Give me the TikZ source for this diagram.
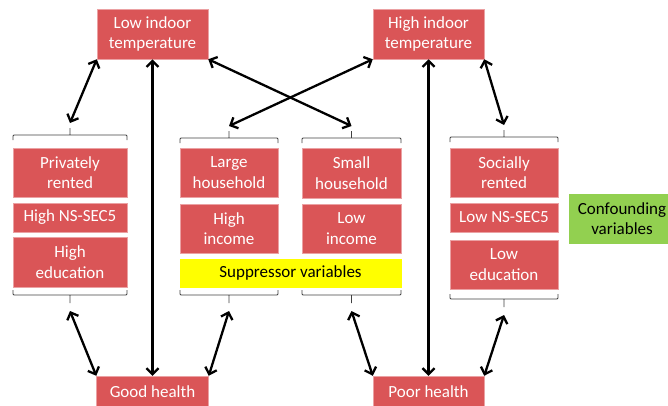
\documentclass[tikz,border=0pt]{standalone}
\usepackage{fontspec}
\setmainfont{Carlito}
\usetikzlibrary{arrows.meta}
\definecolor{boxred}{RGB}{218,85,87}
\definecolor{suppyellow}{RGB}{255,255,0}
\definecolor{confgreen}{RGB}{146,208,80}

\begin{document}
\begin{tikzpicture}[x=1pt,y=-1pt,
  var/.style={fill=boxred,draw=boxred!55!white,line width=0.5pt,text=white,
    align=center,inner sep=0pt,font=\fontsize{17}{20.5}\selectfont},
  brace/.style={draw=black!75,line width=0.9pt,rounded corners=1pt},
  link/.style={line width=2.3pt,
    {Straight Barb[length=6pt,width=12pt]}-{Straight Barb[length=6pt,width=12pt]}}]
\useasboundingbox (0,0) rectangle (668,405);
% temperature
\node[var,minimum width=111pt,minimum height=50pt] (ltemp) at (152.5,34) {Low indoor\\temperature};
\node[var,minimum width=111pt,minimum height=50pt] (htemp) at (428.5,34) {High indoor\\temperature};
% confounding, left
\node[var,minimum width=114pt,minimum height=49pt] (priv) at (70,172.5) {Privately\\rented};
\node[var,minimum width=114pt,minimum height=29pt] (hns) at (70,217.5) {High NS-SEC5};
\node[var,minimum width=114pt,minimum height=50pt] (hedu) at (70,262) {High\\education};
% suppressor
\node[var,minimum width=98pt,minimum height=49pt] (large) at (229,172.5) {Large\\household};
\node[var,minimum width=98pt,minimum height=49pt] (hinc) at (229,228.5) {High\\income};
\node[var,minimum width=99pt,minimum height=50pt] (small) at (351.5,173) {Small\\household};
\node[var,minimum width=99pt,minimum height=49pt] (linc) at (351.5,228.5) {Low\\income};
\node[var,fill=suppyellow,draw=suppyellow,text=black,minimum width=221pt,minimum height=28pt] (supp) at (290.5,273) {Suppressor variables};
% confounding, right
\node[var,minimum width=108pt,minimum height=49pt] (soc) at (504,172.5) {Socially\\rented};
\node[var,minimum width=108pt,minimum height=29pt] (lns) at (504,217.5) {Low NS-SEC5};
\node[var,minimum width=108pt,minimum height=49pt] (ledu) at (504,264.5) {Low\\education};
\node[var,fill=confgreen,draw=confgreen,text=black,minimum width=106pt,minimum height=49pt] (conf) at (622,218.5) {Confounding\\variables};
% health
\node[var,minimum width=112pt,minimum height=32pt] (good) at (152.5,392) {Good health};
\node[var,minimum width=111pt,minimum height=32pt] (poor) at (428.5,392) {Poor health};
% braces
\foreach \l/\r/\y/\n in {13/127/135/1,180/278/138/2,302/401/138/3,450/558/137/4}{
  \draw[brace] (\l,\y+5) -- (\l,\y) -- (\r,\y) -- (\r,\y+5) ({(\l+\r)/2},\y) -- ++(0,-7);
  \coordinate (up\n) at ({(\l+\r)/2},\y-12);
}
\foreach \l/\r/\y/\n in {13/127/295/1,180/278/295/2,302/401/295/3,450/558/299/4}{
  \draw[brace] (\l,\y-5) -- (\l,\y) -- (\r,\y) -- (\r,\y-5) ({(\l+\r)/2},\y) -- ++(0,8);
  \coordinate (dn\n) at ({(\l+\r)/2},\y+16);
}
% links
\draw[link] (ltemp.south west) -- (up1);
\draw[link] (ltemp.south east) -- (up3);
\draw[link] (htemp.south west) -- (up2);
\draw[link] (htemp.south east) -- (up4);
\draw[link] (ltemp.south) -- (good.north);
\draw[link] (htemp.south) -- (poor.north);
\draw[link] (dn1) -- (good.north west);
\draw[link] (dn2) -- (good.north east);
\draw[link] (dn3) -- (poor.north west);
\draw[link] (dn4) -- (poor.north east);
\end{tikzpicture}
\end{document}
